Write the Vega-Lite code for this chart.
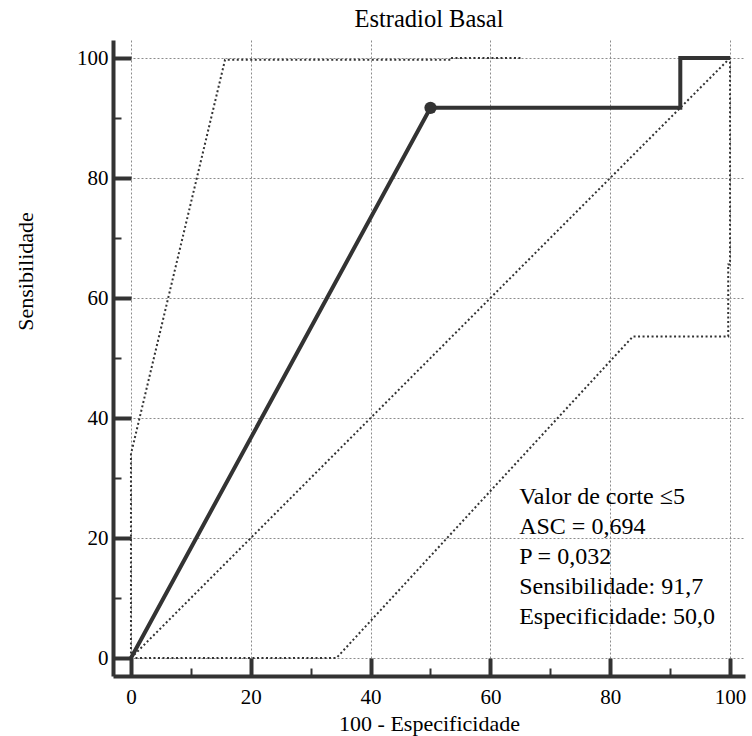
{
  "$schema": "https://vega.github.io/schema/vega-lite/v6.json",
  "width": 632,
  "height": 636,
  "autosize": "none",
  "padding": {"left": 113, "top": 40, "right": 7, "bottom": 60},
  "background": "white",
  "title": {"text": "Estradiol Basal", "font": "Liberation Serif", "fontSize": 24.5, "fontWeight": "normal", "color": "black", "anchor": "middle", "offset": 8},
  "config": {
    "view": {"stroke": null},
    "axis": {
      "domainColor": "#333333",
      "domainWidth": 4,
      "tickColor": "#333333",
      "gridColor": "#8c8c8c",
      "gridDash": [2, 2],
      "gridWidth": 1,
      "labelFont": "Liberation Serif",
      "labelFontSize": 21,
      "labelColor": "black",
      "titleFont": "Liberation Serif",
      "titleFontSize": 22,
      "titleFontWeight": "normal",
      "titleColor": "black"
    }
  },
  "layer": [
    {
      "data": {"values": [{"x": 0, "y": 0, "o": 1}, {"x": 100, "y": 100, "o": 2}]},
      "mark": {"type": "line", "color": "#333333", "strokeWidth": 2, "strokeDash": [2, 2.5]},
      "encoding": {
        "x": {
          "field": "x", "type": "quantitative",
          "scale": {"domain": [-3, 102.5], "nice": false, "zero": false},
          "axis": {
            "title": "100 - Especificidade",
            "values": [0, 5, 10, 15, 20, 25, 30, 35, 40, 45, 50, 55, 60, 65, 70, 75, 80, 85, 90, 95, 100],
            "labelExpr": "datum.value % 20 === 0 ? datum.label : ''",
            "grid": true,
            "gridOpacity": {"condition": {"test": "datum.value % 20 === 0", "value": 1}, "value": 0},
            "tickSize": {"condition": {"test": "datum.value % 20 === 0", "value": -18}, "value": -8},
            "tickWidth": {"condition": {"test": "datum.value % 20 === 0", "value": 4}, "value": 2},
            "labelPadding": 28,
            "titlePadding": -4,
            "labelFlush": false,
            "labelOverlap": false
          }
        },
        "y": {
          "field": "y", "type": "quantitative",
          "scale": {"domain": [-3, 103], "nice": false, "zero": false},
          "axis": {
            "title": "Sensibilidade",
            "titleX": -88,
            "titleY": 231,
            "titleAngle": -90,
            "titleAlign": "center",
            "titleBaseline": "middle",
            "values": [0, 5, 10, 15, 20, 25, 30, 35, 40, 45, 50, 55, 60, 65, 70, 75, 80, 85, 90, 95, 100],
            "labelExpr": "datum.value % 20 === 0 ? datum.label : ''",
            "grid": true,
            "gridOpacity": {"condition": {"test": "datum.value % 20 === 0", "value": 1}, "value": 0},
            "tickSize": {"condition": {"test": "datum.value % 20 === 0", "value": -18}, "value": -8},
            "tickWidth": {"condition": {"test": "datum.value % 20 === 0", "value": 4}, "value": 2},
            "labelPadding": 23,
            "labelFlush": false,
            "labelOverlap": false
          }
        },
        "order": {"field": "o"}
      }
    },
    {
      "data": {"values": [
        {"x": 0, "y": 0, "o": 1}, {"x": 0, "y": 34, "o": 2}, {"x": 15.7, "y": 99.7, "o": 3},
        {"x": 53.6, "y": 99.7, "o": 4}, {"x": 53.6, "y": 100, "o": 5}, {"x": 65.3, "y": 100, "o": 6}
      ]},
      "mark": {"type": "line", "color": "#333333", "strokeWidth": 2, "strokeDash": [2, 2.5]},
      "encoding": {
        "x": {"field": "x", "type": "quantitative"},
        "y": {"field": "y", "type": "quantitative"},
        "order": {"field": "o"}
      }
    },
    {
      "data": {"values": [
        {"x": 0, "y": 0, "o": 1}, {"x": 34.3, "y": 0, "o": 2}, {"x": 83.8, "y": 53.6, "o": 3},
        {"x": 99.7, "y": 53.6, "o": 4}, {"x": 99.7, "y": 65.6, "o": 5}, {"x": 100, "y": 65.6, "o": 6},
        {"x": 100, "y": 100, "o": 7}
      ]},
      "mark": {"type": "line", "color": "#333333", "strokeWidth": 2, "strokeDash": [2, 2.5]},
      "encoding": {
        "x": {"field": "x", "type": "quantitative"},
        "y": {"field": "y", "type": "quantitative"},
        "order": {"field": "o"}
      }
    },
    {
      "data": {"values": [
        {"x": 0, "y": 0, "o": 1}, {"x": 50, "y": 91.7, "o": 2}, {"x": 91.7, "y": 91.7, "o": 3},
        {"x": 91.7, "y": 100, "o": 4}, {"x": 100, "y": 100, "o": 5}
      ]},
      "mark": {"type": "line", "color": "#333333", "strokeWidth": 4, "strokeJoin": "miter"},
      "encoding": {
        "x": {"field": "x", "type": "quantitative"},
        "y": {"field": "y", "type": "quantitative"},
        "order": {"field": "o"}
      }
    },
    {
      "data": {"values": [{"x": 50, "y": 91.7}]},
      "mark": {"type": "point", "filled": true, "color": "#333333", "opacity": 1, "size": 150, "shape": "circle"},
      "encoding": {
        "x": {"field": "x", "type": "quantitative"},
        "y": {"field": "y", "type": "quantitative"}
      }
    },
    {
      "data": {"values": [
        {"x": 64.8, "y": 26.9, "t": "Valor de corte ≤5"},
        {"x": 64.8, "y": 21.9, "t": "ASC = 0,694"},
        {"x": 64.8, "y": 16.9, "t": "P = 0,032"},
        {"x": 64.8, "y": 11.9, "t": "Sensibilidade: 91,7"},
        {"x": 64.8, "y": 6.9, "t": "Especificidade: 50,0"}
      ]},
      "mark": {"type": "text", "align": "left", "baseline": "middle", "font": "Liberation Serif", "fontSize": 24, "color": "black"},
      "encoding": {
        "x": {"field": "x", "type": "quantitative"},
        "y": {"field": "y", "type": "quantitative"},
        "text": {"field": "t"}
      }
    }
  ]
}
